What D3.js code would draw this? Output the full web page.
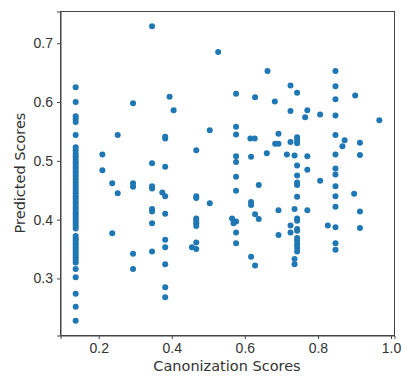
<!DOCTYPE html>
<html>
<head>
<meta charset="utf-8">
<script src="https://cdn.jsdelivr.net/npm/d3@7"></script>
<style>
  body { margin: 0; background: #fff; }
  svg { display: block; font-family: "DejaVu Sans", sans-serif; }
  .tick text { fill: #333; font-size: 14px; }
  .domain, .tick line { stroke: #444; }
</style>
</head>
<body>
<svg id="svg" width="406" height="376"></svg>
<script>

// canonization score (x) / predicted score (y)
var canonization = [
  0.137,0.137,0.137,0.137,0.137,0.137,0.137,0.137,0.137,0.137,
  0.137,0.137,0.137,0.137,0.137,0.137,0.137,0.137,0.137,0.137,
  0.137,0.137,0.137,0.137,0.137,0.137,0.137,0.137,0.137,0.137,
  0.137,0.137,0.137,0.137,0.137,0.137,0.137,0.137,0.137,0.137,
  0.137,0.137,0.137,0.137,0.137,0.137,0.137,0.137,0.137,0.137,
  0.137,0.137,0.137,0.137,0.137,
  0.210,0.210,0.237,0.237,0.252,0.252,
  0.294,0.294,0.294,0.294,0.294,
  0.346,0.346,0.346,0.346,0.346,0.346,0.346,0.346,
  0.374,
  0.382,0.382,0.382,0.382,0.382,0.382,0.382,0.382,0.382,0.382,
  0.394,0.405,0.455,
  0.467,0.467,0.467,0.467,0.467,0.467,0.467,0.467,0.467,
  0.504,0.504,0.527,0.565,0.569,
  0.576,0.576,0.576,0.576,0.576,0.576,0.576,0.576,0.576,0.576,
  0.615,0.627,0.617,0.617,0.617,0.617,0.628,0.628,0.628,
  0.638,0.638,0.660,0.662,
  0.682,0.683,0.692,0.692,0.692,0.692,0.715,
  0.725,0.725,0.725,0.725,0.725,
  0.736,0.736,0.736,0.736,
  0.743,0.743,0.743,0.743,0.743,0.743,0.743,0.743,0.743,0.743,
  0.743,0.743,0.743,0.743,0.743,0.743,0.743,0.743,
  0.765,0.771,0.771,0.771,0.771,
  0.806,0.806,0.827,
  0.848,0.848,0.848,0.848,0.848,0.848,0.848,0.848,0.848,0.848,
  0.848,0.848,0.848,0.848,
  0.867,0.873,0.899,0.902,
  0.915,0.915,0.915,0.915,
  0.968
];

var predicted = [
  0.625,0.600,0.576,0.571,0.566,0.544,0.523,0.518,0.512,0.508,
  0.503,0.499,0.495,0.490,0.486,0.481,0.477,0.473,0.468,0.463,
  0.458,0.454,0.449,0.445,0.440,0.436,0.431,0.427,0.422,0.418,
  0.413,0.409,0.405,0.401,0.397,0.393,0.389,0.385,0.372,0.368,
  0.364,0.360,0.356,0.352,0.348,0.344,0.340,0.336,0.332,0.327,
  0.316,0.302,0.274,0.252,0.228,
  0.511,0.484,0.462,0.377,0.544,0.445,
  0.598,0.462,0.456,0.342,0.316,
  0.729,0.496,0.457,0.453,0.418,0.414,0.394,0.346,
  0.446,
  0.541,0.538,0.490,0.440,0.410,0.366,0.353,0.324,0.285,0.268,
  0.609,0.586,0.353,
  0.518,0.440,0.437,0.402,0.398,0.394,0.389,0.361,0.350,
  0.552,0.428,0.685,0.402,0.394,
  0.614,0.558,0.545,0.508,0.498,0.473,0.449,0.397,0.378,0.360,
  0.538,0.538,0.507,0.430,0.425,0.337,0.608,0.409,0.322,
  0.459,0.401,0.513,0.653,
  0.601,0.529,0.529,0.546,0.416,0.374,0.511,
  0.628,0.585,0.532,0.390,0.378,
  0.509,0.418,0.333,0.324,
  0.616,0.540,0.535,0.530,0.492,0.475,0.463,0.459,0.439,0.402,
  0.398,0.384,0.381,0.369,0.364,0.358,0.352,0.346,
  0.574,0.586,0.508,0.485,0.416,
  0.579,0.466,0.390,
  0.653,0.627,0.605,0.577,0.544,0.511,0.487,0.477,0.457,0.440,
  0.422,0.387,0.360,0.349,
  0.525,0.535,0.444,0.611,
  0.531,0.510,0.414,0.386,
  0.569
];

var xTicks = [0.2, 0.4, 0.6, 0.8, 1.0];
var yTicks = [0.3, 0.4, 0.5, 0.6, 0.7];

var svg = d3.select("#svg");
var padding = {top: 11, right: 12, bottom: 41, left: 60};
var ChartArea = {
  width: 406 - padding.left - padding.right,
  height: 376 - padding.top - padding.bottom
};

var data = canonization.map(function(d, i){ return [d, predicted[i]]; });

// matplotlib style 5% margins
function padded(ext){
  var m = (ext[1] - ext[0]) * 0.05;
  return [ext[0] - m, ext[1] + m];
}

var xScale = d3.scaleLinear()
  .domain(padded(d3.extent(canonization)))
  .range([0, ChartArea.width]);

var yScale = d3.scaleLinear()
  .domain(padded(d3.extent(predicted)))
  .range([ChartArea.height, 0]);

var g = svg.append("g")
  .attr("transform", "translate(" + (padding.left + 0.5) + "," + (padding.top + 0.5) + ")");

g.append("g")
  .attr("transform", "translate(0," + ChartArea.height + ")")
  .call(d3.axisBottom(xScale).tickValues(xTicks).tickFormat(d3.format(".1f"))
        .tickSizeOuter(0).tickSize(3.5).tickPadding(4));

g.append("g")
  .call(d3.axisLeft(yScale).tickValues(yTicks).tickFormat(d3.format(".1f"))
        .tickSizeOuter(0).tickSize(3.5).tickPadding(4));

// frame
g.append("rect")
  .attr("width", ChartArea.width)
  .attr("height", ChartArea.height)
  .attr("fill", "none")
  .attr("stroke", "#444");

g.selectAll("circle")
  .data(data)
  .enter()
  .append("circle")
  .attr("cx", function(d){ return xScale(d[0]); })
  .attr("cy", function(d){ return yScale(d[1]); })
  .attr("r", 3)
  .attr("fill", "#1f77b4");

svg.append("text")
  .attr("x", padding.left + ChartArea.width / 2)
  .attr("y", 371)
  .attr("text-anchor", "middle")
  .attr("font-size", 14.5)
  .attr("fill", "#333")
  .text("Canonization Scores");

svg.append("text")
  .attr("transform", "translate(25," + (padding.top + ChartArea.height / 2) + ") rotate(-90)")
  .attr("text-anchor", "middle")
  .attr("font-size", 14.5)
  .attr("fill", "#333")
  .text("Predicted Scores");

</script>
</body>
</html>
